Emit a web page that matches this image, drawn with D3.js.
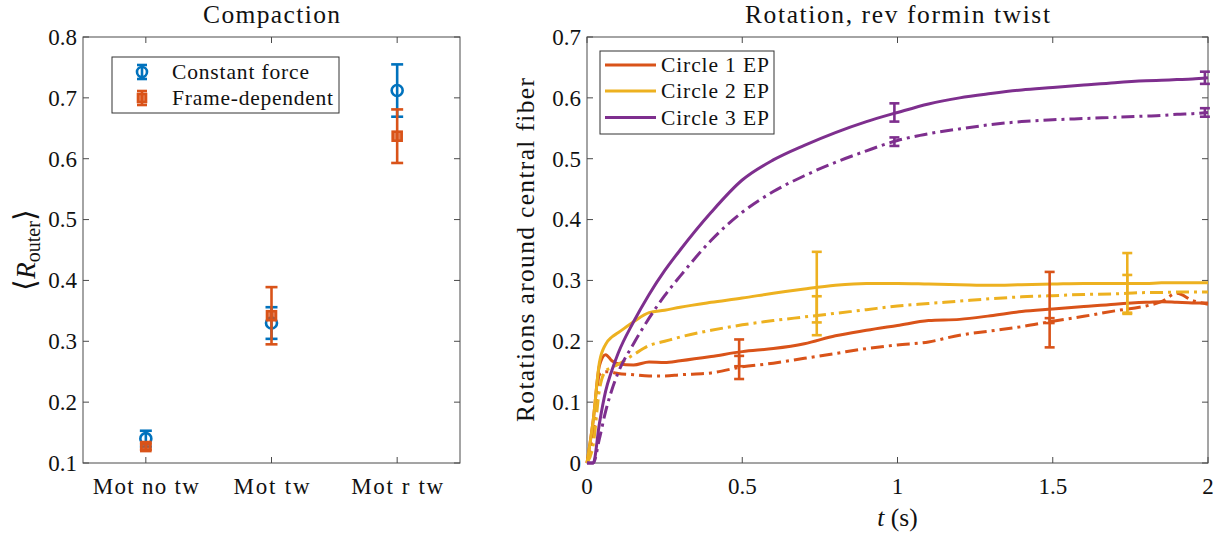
<!DOCTYPE html>
<html><head><meta charset="utf-8">
<script src="https://cdn.jsdelivr.net/npm/d3@7"></script>
<style>
html,body{margin:0;padding:0;background:#fff;}
</style></head>
<body><svg id="c" width="1223" height="535"></svg>
<script>
// ---------- Left panel data ----------
const categories = ["Mot no tw", "Mot tw", "Mot r tw"];
const constMean = [0.140, 0.330, 0.712];
const constErr  = [0.013, 0.026, 0.043];
const frameMean = [0.127, 0.342, 0.637];
const frameErr  = [0.005, 0.047, 0.044];
const leftYTicks = [0.1, 0.2, 0.3, 0.4, 0.5, 0.6, 0.7, 0.8];
const leftLegend = ["Constant force", "Frame-dependent"];

// ---------- Right panel data ----------
const tGrid = [0, 0.02, 0.04, 0.06, 0.08, 0.1, 0.15, 0.2, 0.25, 0.3, 0.4, 0.5, 0.6, 0.7, 0.8, 0.9, 1.0, 1.1, 1.2, 1.3, 1.4, 1.5, 1.6, 1.7, 1.8, 1.85, 1.9, 1.95, 2.0];
const c1Solid = [0, 0.07, 0.16, 0.178, 0.168, 0.163, 0.161, 0.166, 0.165, 0.168, 0.175, 0.183, 0.188, 0.196, 0.209, 0.218, 0.226, 0.234, 0.236, 0.242, 0.249, 0.253, 0.257, 0.261, 0.264, 0.265, 0.264, 0.263, 0.263];
const c1Dash  = [0, 0.05, 0.145, 0.150, 0.149, 0.147, 0.145, 0.143, 0.143, 0.145, 0.148, 0.158, 0.164, 0.172, 0.180, 0.188, 0.194, 0.199, 0.210, 0.217, 0.224, 0.233, 0.241, 0.250, 0.258, 0.265, 0.279, 0.267, 0.261];
const c2Solid = [0, 0.07, 0.165, 0.195, 0.207, 0.214, 0.232, 0.247, 0.251, 0.256, 0.264, 0.271, 0.279, 0.286, 0.292, 0.295, 0.295, 0.294, 0.293, 0.292, 0.293, 0.294, 0.295, 0.295, 0.295, 0.296, 0.296, 0.296, 0.296];
const c2Dash  = [0, 0.03, 0.12, 0.151, 0.157, 0.162, 0.178, 0.193, 0.200, 0.207, 0.218, 0.227, 0.234, 0.240, 0.246, 0.252, 0.258, 0.262, 0.266, 0.270, 0.273, 0.275, 0.277, 0.278, 0.280, 0.280, 0.281, 0.281, 0.281];
const c3Solid = [0, 0, 0.065, 0.118, 0.152, 0.180, 0.232, 0.277, 0.316, 0.350, 0.412, 0.465, 0.498, 0.522, 0.543, 0.561, 0.576, 0.590, 0.600, 0.607, 0.613, 0.617, 0.621, 0.625, 0.628, 0.629, 0.630, 0.631, 0.633];
const c3Dash  = [0, 0, 0.04, 0.085, 0.12, 0.148, 0.196, 0.238, 0.275, 0.307, 0.366, 0.412, 0.446, 0.472, 0.494, 0.513, 0.530, 0.541, 0.549, 0.556, 0.561, 0.564, 0.566, 0.568, 0.570, 0.571, 0.573, 0.574, 0.576];
// error bars
const c1ErrT = [0.49, 1.49], c1SolidErrM = [0.181, 0.252], c1SolidErrE = [0.022, 0.062], c1DashErrM = [0.157, 0.234], c1DashErrE = [0.019, 0.004];
const c2ErrT = [0.74, 1.74], c2SolidErrM = [0.289, 0.295], c2SolidErrE = [0.058, 0.050], c2DashErrM = [0.242, 0.278], c2DashErrE = [0.032, 0.031];
const c3ErrT = [0.99, 1.99], c3SolidErrM = [0.576, 0.633], c3SolidErrE = [0.015, 0.010], c3DashErrM = [0.528, 0.576], c3DashErrE = [0.007, 0.007];
const rightXTicks = [0, 0.5, 1, 1.5, 2];
const rightYTicks = [0, 0.1, 0.2, 0.3, 0.4, 0.5, 0.6, 0.7];
const rightLegend = ["Circle 1 EP", "Circle 2 EP", "Circle 3 EP"];

// ---------- styles ----------
const BLUE = "#0072BD", ORANGE = "#D95319", YELLOW = "#EDB120", PURPLE = "#7E2F8E";
const AXC = "#4a4a4a";
const FONT = "Liberation Serif";
const TICKFS = 23, LEGFS = 21.5, TITLEFS = 25.5;

const svg = d3.select("#c");
function txt(g) { return g.append("text").attr("font-family", FONT).attr("fill", "#111"); }

function frame(g, x0, x1, y0, y1) {
  g.append("rect").attr("x", x0).attr("y", y0).attr("width", x1 - x0).attr("height", y1 - y0)
    .attr("fill", "none").attr("stroke", AXC).attr("stroke-width", 1);
}
function errBar(g, x, m, color, cap, w) {
  g.append("line").attr("x1", x).attr("x2", x).attr("y1", m[0]).attr("y2", m[1]).attr("stroke", color).attr("stroke-width", w);
  [m[0], m[1]].forEach(y => g.append("line").attr("x1", x - cap).attr("x2", x + cap).attr("y1", y).attr("y2", y)
    .attr("stroke", color).attr("stroke-width", w));
}

// ================= LEFT PANEL =================
const L = {x0: 83, x1: 460, y0: 37, y1: 463};
const lx = d3.scaleLinear().domain([0.5, 3.5]).range([L.x0, L.x1]);
const ly = d3.scaleLinear().domain([0.1, 0.8]).range([L.y1, L.y0]);
const gl = svg.append("g");
frame(gl, L.x0, L.x1, L.y0, L.y1);
const TL = 6;
leftYTicks.forEach(v => {
  gl.append("line").attr("x1", L.x0).attr("x2", L.x0 + TL).attr("y1", ly(v)).attr("y2", ly(v)).attr("stroke", AXC);
  gl.append("line").attr("x1", L.x1).attr("x2", L.x1 - TL).attr("y1", ly(v)).attr("y2", ly(v)).attr("stroke", AXC);
  txt(gl).attr("x", L.x0 - 6).attr("y", ly(v)).attr("dy", "0.34em").attr("text-anchor", "end")
    .attr("font-size", TICKFS).text(d3.format(".1f")(v));
});
categories.forEach((c, i) => {
  const x = lx(i + 1);
  gl.append("line").attr("x1", x).attr("x2", x).attr("y1", L.y1).attr("y2", L.y1 - TL).attr("stroke", AXC);
  gl.append("line").attr("x1", x).attr("x2", x).attr("y1", L.y0).attr("y2", L.y0 + TL).attr("stroke", AXC);
  txt(gl).attr("x", x).attr("y", 494).attr("text-anchor", "middle").attr("font-size", TICKFS)
    .attr("textLength", [106, 76, 92][i]).text(c);
});
txt(gl).attr("x", (L.x0 + L.x1) / 2).attr("y", 23).attr("text-anchor", "middle")
  .attr("font-size", TITLEFS).attr("textLength", 137).text("Compaction");
const yl = txt(gl).attr("transform", "translate(35," + ((L.y0 + L.y1) / 2) + ") rotate(-90)")
  .attr("text-anchor", "middle").attr("font-size", 27);
yl.append("tspan").attr("font-size", 30).text("\u27E8");
yl.append("tspan").attr("font-style", "italic").text("R");
yl.append("tspan").attr("font-size", 20).attr("dy", 5).text("outer");
yl.append("tspan").attr("font-size", 30).attr("dy", -5).text("\u27E9");

categories.forEach((c, i) => {
  const x = lx(i + 1);
  errBar(gl, x, [ly(constMean[i] + constErr[i]), ly(constMean[i] - constErr[i])], BLUE, 6, 2.6);
  gl.append("circle").attr("cx", x).attr("cy", ly(constMean[i])).attr("r", 5.5)
    .attr("fill", "none").attr("stroke", BLUE).attr("stroke-width", 2.6);
});
categories.forEach((c, i) => {
  const x = lx(i + 1);
  errBar(gl, x, [ly(frameMean[i] + frameErr[i]), ly(frameMean[i] - frameErr[i])], ORANGE, 6, 2.6);
  gl.append("rect").attr("x", x - 4.5).attr("y", ly(frameMean[i]) - 4.5).attr("width", 9).attr("height", 9)
    .attr("fill", ORANGE).attr("fill-opacity", 0.75).attr("stroke", ORANGE).attr("stroke-width", 2.6);
});
const lg = gl.append("g");
lg.append("rect").attr("x", 112).attr("y", 57).attr("width", 227).attr("height", 56)
  .attr("fill", "#fff").attr("stroke", "#333").attr("stroke-width", 1);
[[BLUE, 72], [ORANGE, 98]].forEach(([col, y], k) => {
  errBar(lg, 142, [y - 7, y + 7], col, 5, 2.6);
  if (k === 0) lg.append("circle").attr("cx", 142).attr("cy", y).attr("r", 5).attr("fill", "none").attr("stroke", col).attr("stroke-width", 2.6);
  else lg.append("rect").attr("x", 138).attr("y", y - 4).attr("width", 8).attr("height", 8).attr("fill", col).attr("fill-opacity", 0.75).attr("stroke", col).attr("stroke-width", 2.6);
  txt(lg).attr("x", 172).attr("y", y).attr("dy", "0.34em").attr("font-size", LEGFS)
    .attr("textLength", [137, 161][k]).text(leftLegend[k]);
});

// ================= RIGHT PANEL =================
const R = {x0: 587, x1: 1208, y0: 37, y1: 463};
const rx = d3.scaleLinear().domain([0, 2]).range([R.x0, R.x1]);
const ry = d3.scaleLinear().domain([0, 0.7]).range([R.y1, R.y0]);
const gr = svg.append("g");
frame(gr, R.x0, R.x1, R.y0, R.y1);
rightYTicks.forEach(v => {
  gr.append("line").attr("x1", R.x0).attr("x2", R.x0 + TL).attr("y1", ry(v)).attr("y2", ry(v)).attr("stroke", AXC);
  gr.append("line").attr("x1", R.x1).attr("x2", R.x1 - TL).attr("y1", ry(v)).attr("y2", ry(v)).attr("stroke", AXC);
  txt(gr).attr("x", R.x0 - 6).attr("y", ry(v)).attr("dy", "0.34em").attr("text-anchor", "end")
    .attr("font-size", TICKFS).text(v === 0 ? "0" : d3.format(".1f")(v));
});
rightXTicks.forEach(v => {
  gr.append("line").attr("x1", rx(v)).attr("x2", rx(v)).attr("y1", R.y1).attr("y2", R.y1 - TL).attr("stroke", AXC);
  gr.append("line").attr("x1", rx(v)).attr("x2", rx(v)).attr("y1", R.y0).attr("y2", R.y0 + TL).attr("stroke", AXC);
  txt(gr).attr("x", rx(v)).attr("y", 494).attr("text-anchor", "middle").attr("font-size", TICKFS).text(String(v));
});
txt(gr).attr("x", (R.x0 + R.x1) / 2).attr("y", 23).attr("text-anchor", "middle")
  .attr("font-size", TITLEFS).attr("textLength", 305).text("Rotation, rev formin twist");
txt(gr).attr("transform", "translate(534," + ((R.y0 + R.y1) / 2) + ") rotate(-90)")
  .attr("text-anchor", "middle").attr("font-size", 25.5).attr("textLength", 344).text("Rotations around central fiber");
const xl = txt(gr).attr("x", (R.x0 + R.x1) / 2).attr("y", 526).attr("text-anchor", "middle").attr("font-size", 25.5);
xl.append("tspan").attr("font-style", "italic").text("t");
xl.append("tspan").text(" (s)");

const line = d3.line().x((d, i) => rx(tGrid[i])).y(d => ry(d)).curve(d3.curveMonotoneX);
const DASH = "13,5,3,5";
const series = [
  {v: c1Solid, c: ORANGE, d: null}, {v: c1Dash, c: ORANGE, d: DASH},
  {v: c2Solid, c: YELLOW, d: null}, {v: c2Dash, c: YELLOW, d: DASH},
  {v: c3Solid, c: PURPLE, d: null}, {v: c3Dash, c: PURPLE, d: DASH}
];
series.forEach(s => {
  gr.append("path").attr("d", line(s.v)).attr("fill", "none").attr("stroke", s.c)
    .attr("stroke-width", 3).attr("stroke-dasharray", s.d).attr("stroke-linejoin", "round");
});
const errs = [
  [c1ErrT, c1SolidErrM, c1SolidErrE, ORANGE], [c1ErrT, c1DashErrM, c1DashErrE, ORANGE],
  [c2ErrT, c2SolidErrM, c2SolidErrE, YELLOW], [c2ErrT, c2DashErrM, c2DashErrE, YELLOW],
  [c3ErrT, c3SolidErrM, c3SolidErrE, PURPLE], [c3ErrT, c3DashErrM, c3DashErrE, PURPLE]
];
errs.forEach(([ts, ms, es, col]) => {
  ts.forEach((t, i) => errBar(gr, rx(t), [ry(ms[i] + es[i]), ry(ms[i] - es[i])], col, 5, 2.6));
});
const rg = gr.append("g");
rg.append("rect").attr("x", 600).attr("y", 51).attr("width", 174).attr("height", 83)
  .attr("fill", "#fff").attr("stroke", "#333").attr("stroke-width", 1);
[[ORANGE, 65], [YELLOW, 91], [PURPLE, 117.5]].forEach(([col, y], k) => {
  rg.append("line").attr("x1", 605).attr("x2", 656).attr("y1", y).attr("y2", y).attr("stroke", col).attr("stroke-width", 3);
  txt(rg).attr("x", 661).attr("y", y).attr("dy", "0.34em").attr("font-size", LEGFS)
    .attr("textLength", 108).text(rightLegend[k]);
});
</script></body></html>
